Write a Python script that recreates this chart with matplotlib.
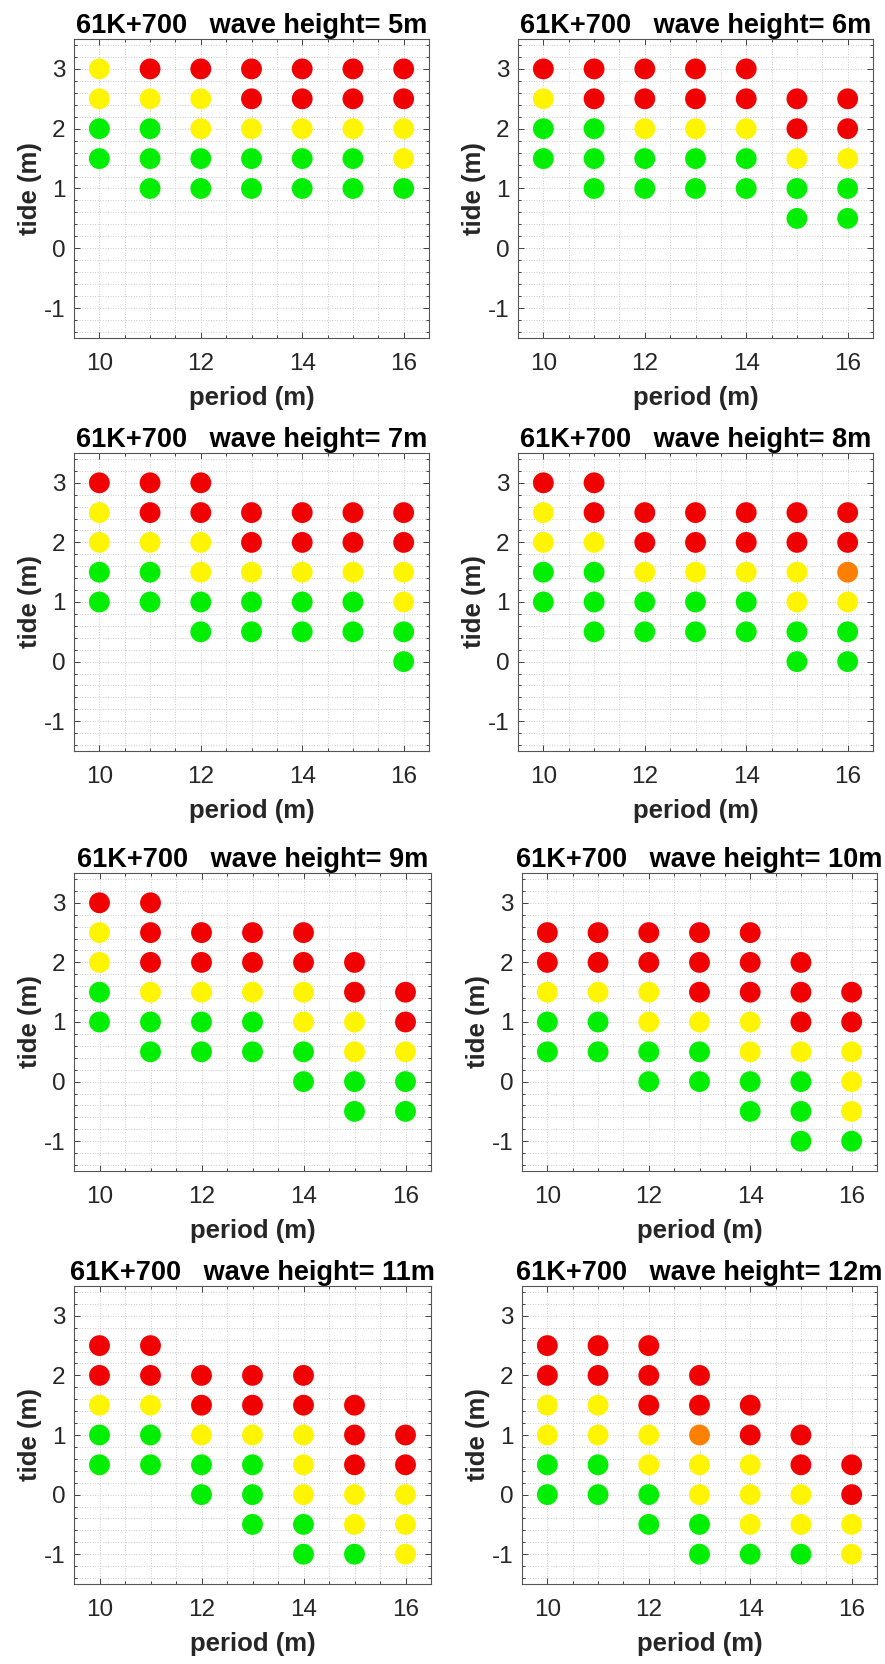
import matplotlib
matplotlib.use('Agg')
import matplotlib.pyplot as plt
from matplotlib.ticker import MultipleLocator
import numpy as np

plt.rcParams['font.family'] = ['Liberation Sans', 'DejaVu Sans']
plt.rcParams['axes.unicode_minus'] = False

# wave heights, one panel each
wave_heights = [5, 6, 7, 8, 9, 10, 11, 12]
periods = [10, 11, 12, 13, 14, 15, 16]

# for each panel: highest tide of each period column, then the colour of each
# point going down in 0.5 m steps (R red, Y yellow, G green, O orange)
tops_5 = [3, 3, 3, 3, 3, 3, 3]
codes_5 = ['YYGG', 'RYGGG', 'RYYGG', 'RRYGG', 'RRYGG', 'RRYGG', 'RRYYG']

tops_6 = [3, 3, 3, 3, 3, 2.5, 2.5]
codes_6 = ['RYGG', 'RRGGG', 'RRYGG', 'RRYGG', 'RRYGG', 'RRYGG', 'RRYGG']

tops_7 = [3, 3, 3, 2.5, 2.5, 2.5, 2.5]
codes_7 = ['RYYGG', 'RRYGG', 'RRYYGG', 'RRYGG', 'RRYGG', 'RRYGG', 'RRYYGG']

tops_8 = [3, 3, 2.5, 2.5, 2.5, 2.5, 2.5]
codes_8 = ['RYYGG', 'RRYGGG', 'RRYGG', 'RRYGG', 'RRYGG', 'RRYYGG', 'RROYGG']

tops_9 = [3, 3, 2.5, 2.5, 2.5, 2, 1.5]
codes_9 = ['RYYGG', 'RRRYGG', 'RRYGG', 'RRYGG', 'RRYYGG', 'RRYYGG', 'RRYGG']

tops_10 = [2.5, 2.5, 2.5, 2.5, 2.5, 2, 1.5]
codes_10 = ['RRYGG', 'RRYGG', 'RRYYGG', 'RRRYGG', 'RRRYYGG', 'RRRYGGG', 'RRYYYG']

tops_11 = [2.5, 2.5, 2, 2, 2, 1.5, 1]
codes_11 = ['RRYGG', 'RRYGG', 'RRYGG', 'RRYGGG', 'RRYYYGG', 'RRRYYG', 'RRYYY']

tops_12 = [2.5, 2.5, 2.5, 2, 1.5, 1, 0.5]
codes_12 = ['RRYYGG', 'RRYYGG', 'RRRYYGG', 'RROYYGG', 'RRYYYG', 'RRYYG', 'RRYY']

all_tops = [tops_5, tops_6, tops_7, tops_8, tops_9, tops_10, tops_11, tops_12]
all_codes = [codes_5, codes_6, codes_7, codes_8, codes_9, codes_10, codes_11, codes_12]

colors = {'R': '#F00000', 'Y': '#FFF500', 'G': '#00EE00', 'O': '#FF7F00'}

W, H = 885, 1664
fig = plt.figure(figsize=(W / 100, H / 100), dpi=100)

# axes boxes in pixels: left, top, right, bottom
boxes = [
    (74, 39, 429, 338), (518, 39, 873, 338),
    (74, 453, 429, 751), (518, 453, 873, 751),
    (74, 873, 431, 1171), (522, 873, 877, 1171),
    (74, 1286, 431, 1584), (522, 1286, 877, 1584),
]

dark = '#262626'

for i, hw in enumerate(wave_heights):
    l, t, r, b = boxes[i]
    ax = fig.add_axes([l / W, 1 - b / H, (r - l) / W, (b - t) / H])

    xs, ys, cs = [], [], []
    for p, top, code in zip(periods, all_tops[i], all_codes[i]):
        for k, c in enumerate(code):
            xs.append(p)
            ys.append(top - 0.5 * k)
            cs.append(colors[c])

    ax.scatter(xs, ys, s=225, c=cs, edgecolors='none', zorder=3)

    ax.set_xlim(9.5, 16.5)
    ax.set_ylim(-1.5, 3.5)
    ax.set_xticks([10, 12, 14, 16])
    ax.set_yticks([-1, 0, 1, 2, 3])
    ax.xaxis.set_minor_locator(MultipleLocator(0.5))
    ax.yaxis.set_minor_locator(MultipleLocator(0.2))
    ax.grid(True, which='both', ls=':', lw=0.7, color='#cccccc', zorder=0)
    ax.set_axisbelow(True)

    ax.tick_params(which='both', direction='in', top=True, right=True,
                   colors=dark, width=0.6)
    ax.tick_params(which='major', length=4)
    ax.tick_params(which='minor', length=2)
    ax.tick_params(axis='x', which='major', labelsize=17.5, pad=11)
    ax.tick_params(axis='y', which='major', labelsize=17.5, pad=6)
    for s in ax.spines.values():
        s.set_color('#555555')
        s.set_linewidth(0.8)

    ax.set_title('61K+700   wave height= %dm' % hw, fontsize=19.5,
                 fontweight='bold', pad=4)
    ax.set_xlabel('period (m)', fontsize=18.5, fontweight='bold', color=dark,
                  labelpad=8)
    ax.set_ylabel('tide (m)', fontsize=18.5, fontweight='bold', color=dark,
                  labelpad=1.5)

fig.savefig('out.png', dpi=100)
